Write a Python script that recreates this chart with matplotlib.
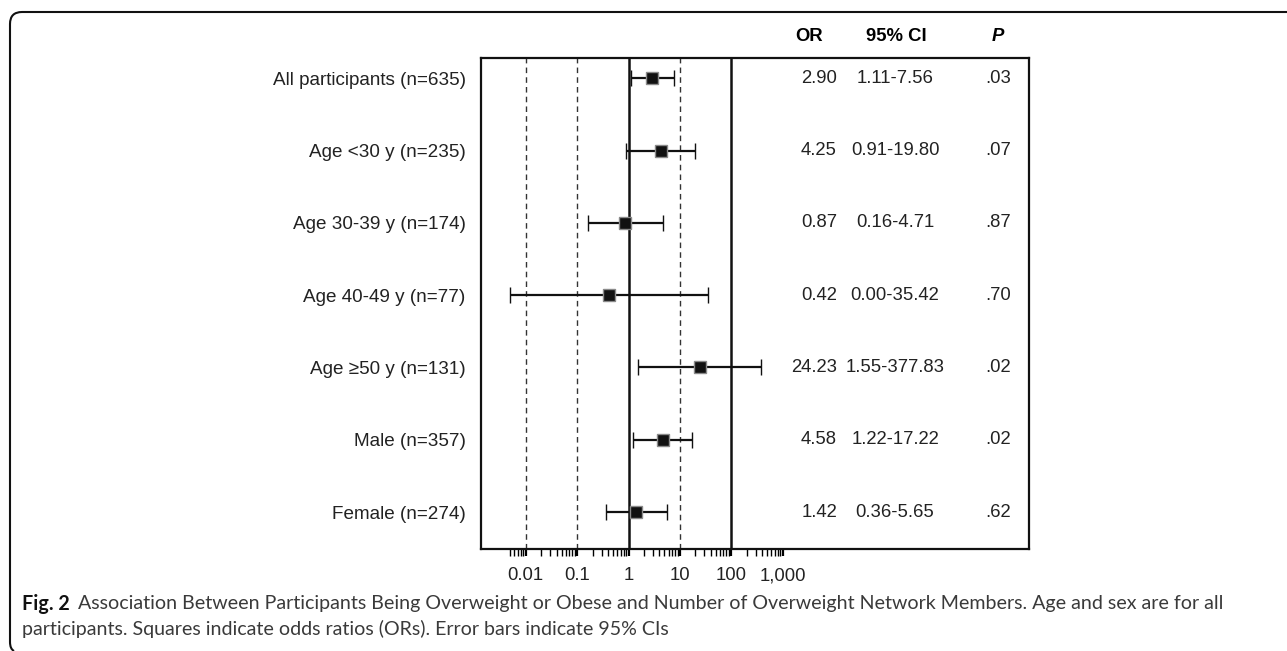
import numpy as np
import matplotlib
matplotlib.use('Agg')
import matplotlib.pyplot as plt
from matplotlib.path import Path
from matplotlib.patches import PathPatch
import matplotlib.transforms as mtransforms

# data
groups = ['All participants (n=635)', 'Age <30 y (n=235)', 'Age 30-39 y (n=174)',
          'Age 40-49 y (n=77)', 'Age \u226550 y (n=131)', 'Male (n=357)', 'Female (n=274)']
odds = [2.90, 4.25, 0.87, 0.42, 24.23, 4.58, 1.42]
ci_lo = [1.11, 0.91, 0.16, 0.005, 1.55, 1.22, 0.36]   # 0.00 drawn at the axis floor
ci_hi = [7.56, 19.80, 4.71, 35.42, 377.83, 17.22, 5.65]
ci_text = ['1.11-7.56', '0.91-19.80', '0.16-4.71', '0.00-35.42', '1.55-377.83', '1.22-17.22', '0.36-5.65']
p_text = ['.03', '.07', '.87', '.70', '.02', '.02', '.62']
xticks = [0.01, 0.1, 1, 10, 100, 1000]
xtick_labels = ['0.01', '0.1', '1', '10', '100', '1,000']

W, H = 1287, 651
plt.rcParams['font.family'] = ['Liberation Sans', 'DejaVu Sans']
fig = plt.figure(figsize=(W / 100, H / 100), dpi=100)

# axes box in pixels: x 481..1029, y 58..549
ax = fig.add_axes([481 / W, 1 - 549 / H, (1029 - 481) / W, (549 - 58) / H])
ax.set_xscale('log')
ax.set_xlim(10 ** -2.87, 10 ** 7.79)
ax.set_ylim(6.51, -0.28)

for v in [0.01, 0.1, 10]:
    ax.axvline(v, color='#333333', lw=1.0, ls=(0, (4, 3)), zorder=1)
for v in [1, 100]:
    ax.axvline(v, color='#111111', lw=1.8, zorder=1)

y = np.arange(len(groups))
odds_a = np.array(odds)
err = [odds_a - np.array(ci_lo), np.array(ci_hi) - odds_a]
ax.errorbar(odds_a, y, xerr=err, fmt='s', color='#111111', ecolor='#111111',
            elinewidth=1.6, capsize=6, capthick=1.6, markersize=8.5,
            mfc='#111111', mec='#8a8a8a', mew=1.0, zorder=3)

# table columns
fs = 13.3
tr = mtransforms.blended_transform_factory(ax.transAxes, ax.transData)
for i in range(len(groups)):
    ax.text(0.6496, y[i], '%.2f' % odds[i], transform=tr, ha='right', va='center', fontsize=fs, color='#222222')
    ax.text(0.7555, y[i], ci_text[i], transform=tr, ha='center', va='center', fontsize=fs, color='#222222')
    ax.text(0.9434, y[i], p_text[i], transform=tr, ha='center', va='center', fontsize=fs, color='#222222')

ax.text(0.5985, 1.043, 'OR', transform=ax.transAxes, ha='center', va='center', fontsize=fs, fontweight='bold')
ax.text(0.7575, 1.043, '95% CI', transform=ax.transAxes, ha='center', va='center', fontsize=fs, fontweight='bold')
ax.text(0.9434, 1.043, 'P', transform=ax.transAxes, ha='center', va='center', fontsize=fs,
        fontweight='bold', fontstyle='italic')

ax.set_yticks(y)
ax.set_yticklabels(groups, fontsize=13.6, color='#222222')
ax.tick_params(axis='y', length=0, pad=11)

ax.set_xticks(xticks)
ax.set_xticklabels(xtick_labels, fontsize=fs, color='#222222')
minors = [m * 10.0 ** e for e in range(-3, 3) for m in range(2, 10)]
minors = [v for v in minors if 0.0049 < v < 1000]
ax.set_xticks(minors, minor=True)
ax.xaxis.set_minor_formatter(plt.NullFormatter())
ax.tick_params(axis='x', which='major', direction='out', length=5, width=1.6, pad=8)
ax.tick_params(axis='x', which='minor', direction='out', length=5, width=1.0)

for s in ax.spines.values():
    s.set_linewidth(1.6)
    s.set_color('#111111')

# outer frame (top and left edges, rounded corner)
def fp(x, yy):
    return (x / W, 1 - yy / H)

verts = [fp(1287, 12), fp(22, 12), fp(10, 12), fp(10, 24), fp(10, 642), fp(10, 649), fp(14, 651)]
codes = [Path.MOVETO, Path.LINETO, Path.CURVE3, Path.CURVE3, Path.LINETO, Path.CURVE3, Path.CURVE3]
fig.patches.append(PathPatch(Path(verts, codes), transform=fig.transFigure, fill=False,
                             lw=1.5, edgecolor='#111111'))

# caption
cap_font = ['Lato', 'DejaVu Sans']
fig.text(22 / W, 1 - 604 / H, 'Fig. 2', fontsize=14.2, fontweight='bold', family=cap_font,
         va='center', color='#111111')
fig.text(78 / W, 1 - 604 / H,
         'Association Between Participants Being Overweight or Obese and Number of Overweight '
         'Network Members. Age and sex are for all',
         fontsize=14.1, family=cap_font, va='center', color='#3a3a3a')
fig.text(22 / W, 1 - 629 / H,
         'participants. Squares indicate odds ratios (ORs). Error bars indicate 95% CIs',
         fontsize=14.1, family=cap_font, va='center', color='#3a3a3a')

fig.savefig('out.png', dpi=100)
